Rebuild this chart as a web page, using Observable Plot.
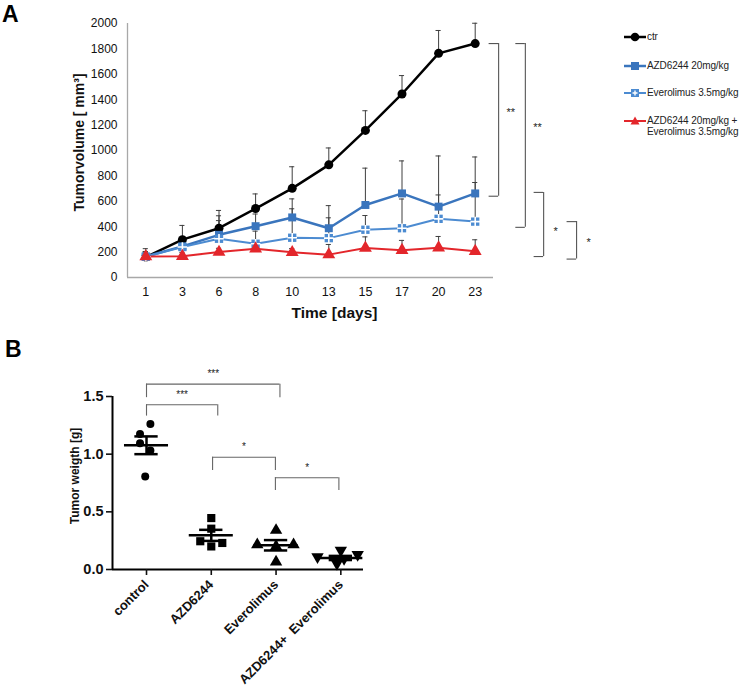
<!DOCTYPE html>
<html><head><meta charset="utf-8">
<script src="https://cdn.jsdelivr.net/npm/d3@7"></script>
<script src="https://cdn.jsdelivr.net/npm/@observablehq/plot@0.6"></script>
<style>
body{margin:0;background:#fff;}
#root{position:relative;width:742px;height:689px;font-family:"Liberation Sans",Arial,sans-serif;overflow:hidden;background:#fff}
.panel{position:absolute;left:0}
.plab{position:absolute;font-weight:bold;font-size:23px;line-height:1;color:#000}
.leg{position:absolute;left:624px;font-size:10px;color:#222;line-height:11px;letter-spacing:-0.1px}
.leg svg{position:absolute;left:0;top:0}
.leg span{position:absolute;left:23px;top:0;white-space:nowrap}
</style></head><body><div id="root"></div>
<script>
// ---------- Panel A data ----------
const days = [1, 3, 6, 8, 10, 13, 15, 17, 20, 23];
const seriesNames = ["ctr", "AZD6244 20mg/kg", "Everolimus 3.5mg/kg", "AZD6244 20mg/kg +\nEverolimus 3.5mg/kg"];
const ctrMean  = [161, 298, 388, 543, 702, 887, 1158, 1445, 1765, 1842];
const ctrErr   = [66, 112, 140, 115, 170, 133, 155, 145, 180, 160];
const azdMean  = [165, 245, 336, 404, 473, 388, 571, 662, 558, 662];
const azdErr   = [40, 35, 150, 96, 146, 178, 290, 256, 399, 287];
const evMean   = [163, 240, 305, 266, 313, 310, 376, 388, 462, 440];
const evErr    = [40, 35, 143, 99, 228, 160, 112, 230, 188, 308];
const comboMean= [165, 168, 200, 227, 198, 180, 232, 214, 235, 206];
const comboErr = [30, 30, 30, 30, 30, 80, 88, 78, 88, 91];
const yTicksA = [0, 200, 400, 600, 800, 1000, 1200, 1400, 1600, 1800, 2000];
const bracketsA = [
  {top: 1842, bottom: 640, label: "**", labelAt: 1300},
  {top: 1842, bottom: 395, label: "**", labelAt: 1185},
  {top: 670, bottom: 165, label: "*", labelAt: 360},
  {top: 440, bottom: 145, label: "*", labelAt: 275}
];
const bracketColA = [9.64, 10.37, 10.87, 11.77]; // annotation columns right of the plot

// ---------- Panel B data ----------
const groupsB = ["control", "AZD6244", "Everolimus", "AZD6244+  Everolimus"];
const weightsB = [
  [1.262, 1.175, 1.094, 1.031, 0.806],
  [0.446, 0.354, 0.245, 0.230, 0.200],
  [0.340, 0.215, 0.215, 0.200, 0.066],
  [0.167, 0.130, 0.109, 0.095, 0.052]
];
const jitterB = [
  [0.06, -0.10, -0.10, 0.06, -0.02],
  [0.00, 0.00, -0.17, 0.17, 0.00],
  [0.00, -0.29, 0.27, 0.00, 0.00],
  [0.00, 0.26, -0.36, 0.05, -0.06]
];
const meanB = [1.077, 0.296, 0.210, 0.100];
const semB  = [0.077, 0.048, 0.045, 0.018];
const yTicksB = [0, 0.5, 1.0, 1.5];
const bracketsB = [
  {a: 0, b: 2.06, y: 1.607, leg: 1.49, label: "***"},
  {a: 0, b: 1.10, y: 1.428, leg: 1.33, label: "***"},
  {a: 1.02, b: 1.99, y: 0.973, leg: 0.858, label: "*"},
  {a: 1.99, b: 2.97, y: 0.795, leg: 0.685, label: "*"}
];

// ---------- styles ----------
const colors = ["#000000", "#3a75bd", "#4c8bd1", "#e3262b"];
const lineW = [2.5, 2.5, 2, 2];
const errColor = "#3f3f3f";

const triangleDown = {
  draw(ctx, size) {
    const s3 = Math.sqrt(3);
    const y = -Math.sqrt(size / (s3 * 3));
    ctx.moveTo(0, -y * 2);
    ctx.lineTo(-s3 * y, y);
    ctx.lineTo(s3 * y, y);
    ctx.closePath();
  }
};

const root = document.getElementById("root");

// ---------- Panel A ----------
const means = [ctrMean, azdMean, evMean, comboMean];
const errs = [ctrErr, azdErr, evErr, comboErr];
const rowsA = means.flatMap((m, s) => m.map((v, i) => ({s, i, v, hi: v + errs[s][i]})));
const xDomA = [-0.5, days.length - 0.5];
const capW = 0.07;

const marksA = [
  Plot.ruleY([0], {stroke: "#a8a8a8", strokeWidth: 1.3}),
  Plot.ruleX([xDomA[0]], {y1: 0, y2: yTicksA[yTicksA.length - 1], stroke: "#a8a8a8", strokeWidth: 1.3}),
  Plot.axisY({ticks: yTicksA, tickFormat: d => String(d), tickSize: 0, tickPadding: 10, label: null, fontSize: 12}),
  Plot.axisX({ticks: days.map((d, i) => i), tickFormat: i => String(days[i]), tickSize: 0, tickPadding: 10, label: null, fontSize: 12.5}),
  Plot.text(["Tumorvolume [ mm³]"], {frameAnchor: "left", textAnchor: "middle", lineAnchor: "middle", rotate: -90, dx: -48, dy: -8, fontWeight: "bold", fontSize: 14, fill: "#111"}),
  Plot.text(["Time [days]"], {frameAnchor: "bottom", textAnchor: "middle", lineAnchor: "middle", dx: 24, dy: 36, fontWeight: "bold", fontSize: 15.5, fill: "#111"})
];
for (let s = 0; s < 4; s++) {
  const rows = rowsA.filter(d => d.s === s);
  marksA.push(Plot.line(rows, {x: "i", y: "v", stroke: colors[s], strokeWidth: lineW[s]}));
}
for (let s = 0; s < 4; s++) {
  const rows = rowsA.filter(d => d.s === s);
  marksA.push(
    Plot.ruleX(rows, {x: "i", y1: "v", y2: "hi", stroke: errColor, strokeWidth: 1}),
    Plot.ruleY(rows, {y: "hi", x1: d => d.i - capW, x2: d => d.i + capW, stroke: errColor, strokeWidth: 1})
  );
}
for (let s = 0; s < 4; s++) {
  const rows = rowsA.filter(d => d.s === s);
  if (s === 0) marksA.push(Plot.dot(rows, {x: "i", y: "v", r: 4.5, fill: colors[0], symbol: "circle"}));
  if (s === 1) marksA.push(Plot.dot(rows, {x: "i", y: "v", r: 4.5, fill: colors[1], symbol: "square"}));
  if (s === 2) marksA.push(
    Plot.dot(rows, {x: "i", y: "v", r: 4.7, fill: colors[2], symbol: "square"}),
    Plot.dot(rows, {x: "i", y: "v", r: 3.2, stroke: "#fff", strokeWidth: 1.6, symbol: "plus"})
  );
  if (s === 3) marksA.push(Plot.dot(rows, {x: "i", y: "v", r: 4.8, fill: colors[3], symbol: "triangle"}));
}
// significance brackets (annotation)
const bA = bracketsA.map((b, k) => ({...b, c: bracketColA[k]}));
marksA.push(
  Plot.ruleX(bA, {x: "c", y1: "top", y2: "bottom", stroke: "#555", strokeWidth: 1.1}),
  Plot.ruleY(bA, {y: "top", x1: d => d.c - 0.26, x2: "c", stroke: "#555", strokeWidth: 1.1}),
  Plot.ruleY(bA, {y: "bottom", x1: d => d.c - 0.26, x2: "c", stroke: "#555", strokeWidth: 1.1}),
  Plot.text(bA, {x: d => d.c + 0.33, y: "labelAt", text: "label", fontSize: 11, fill: "#222"})
);

const plotA = Plot.plot({
  width: 742, height: 330,
  marginLeft: 127, marginRight: 249, marginTop: 23, marginBottom: 53,
  style: {fontFamily: "Liberation Sans, Arial, sans-serif", color: "#111", background: "transparent", overflow: "visible"},
  x: {type: "linear", domain: xDomA},
  y: {domain: [0, 2000]},
  marks: marksA
});
plotA.classList.add("panel");
plotA.style.top = "0px";
root.appendChild(plotA);

// ---------- Legend A ----------
const legTops = [31, 60, 87, 115];
const legSym = [
  `<circle cx="11" cy="6" r="4.3" fill="${colors[0]}"/>`,
  `<rect x="7" y="2" width="8" height="8" fill="${colors[1]}"/>`,
  `<rect x="7" y="2" width="8" height="8" fill="${colors[2]}"/><path d="M11 3.5V8.5M8.5 6H13.5" stroke="#fff" stroke-width="1.4"/>`,
  `<path d="M11 1.5L15.5 9.5H6.5Z" fill="${colors[3]}"/>`
];
seriesNames.forEach((name, s) => {
  const d = document.createElement("div");
  d.className = "leg";
  d.style.top = legTops[s] + "px";
  d.innerHTML = `<svg width="24" height="12"><line x1="0" y1="6" x2="22" y2="6" stroke="${colors[s]}" stroke-width="${lineW[s]}"/>${legSym[s]}</svg><span>${name.replace("\n", "<br>")}</span>`;
  root.appendChild(d);
});

// ---------- Panel B ----------
const xDomB = [-0.525, 3.35];
const pts = weightsB.flatMap((w, g) => w.map((v, k) => ({g, v, x: g + jitterB[g][k]})));
const stats = meanB.map((m, g) => ({g, m, lo: m - semB[g], hi: m + semB[g]}));
const symB = ["circle", "square", "triangle", triangleDown];
const marksB = [
  Plot.ruleY([0], {x1: xDomB[0], x2: xDomB[1], stroke: "#000", strokeWidth: 2}),
  Plot.ruleX([xDomB[0]], {y1: 0, y2: yTicksB[yTicksB.length - 1], stroke: "#000", strokeWidth: 2}),
  Plot.axisY({ticks: yTicksB, tickFormat: d3.format(".1f"), tickSize: 6, tickPadding: 3, label: null, fontSize: 14.5, strokeWidth: 1.6}),
  Plot.axisX({ticks: groupsB.map((g, i) => i), tickFormat: i => groupsB[i], tickSize: 6, tickPadding: 7, tickRotate: -45, label: null, fontSize: 13, strokeWidth: 1.6}),
  Plot.text(["Tumor weigth [g]"], {frameAnchor: "left", textAnchor: "middle", lineAnchor: "middle", rotate: -90, dx: -37, dy: -7, fontSize: 12, fill: "#111"}),
  // brackets
  Plot.ruleY(bracketsB, {y: "y", x1: "a", x2: "b", stroke: "#666", strokeWidth: 1.1}),
  Plot.ruleX(bracketsB, {x: "a", y1: "leg", y2: "y", stroke: "#666", strokeWidth: 1.1}),
  Plot.ruleX(bracketsB, {x: "b", y1: "leg", y2: "y", stroke: "#666", strokeWidth: 1.1}),
  Plot.text(bracketsB, {x: d => (d.a + d.b) / 2, y: "y", text: "label", dy: -10, fontSize: 10, fontWeight: "normal", fill: "#222"})
];
for (let g = 0; g < 4; g++) {
  marksB.push(Plot.dot(pts.filter(d => d.g === g), {x: "x", y: "v", r: g === 0 ? 4 : 4.6, fill: "#000", symbol: symB[g]}));
}
marksB.push(
  Plot.ruleY(stats, {y: "m", x1: d => d.g - 0.34, x2: d => d.g + 0.34, stroke: "#000", strokeWidth: 2.5}),
  Plot.ruleY(stats, {y: "hi", x1: d => d.g - 0.18, x2: d => d.g + 0.18, stroke: "#000", strokeWidth: 2.5}),
  Plot.ruleY(stats, {y: "lo", x1: d => d.g - 0.18, x2: d => d.g + 0.18, stroke: "#000", strokeWidth: 2.5}),
  Plot.ruleX(stats, {x: "g", y1: "lo", y2: "hi", stroke: "#000", strokeWidth: 2.5})
);
const plotB = Plot.plot({
  width: 400, height: 359,
  marginLeft: 112, marginRight: 37, marginTop: 66, marginBottom: 120,
  style: {fontFamily: "Liberation Sans, Arial, sans-serif", fontWeight: "bold", color: "#111", background: "transparent", overflow: "visible"},
  x: {type: "linear", domain: xDomB},
  y: {domain: [0, 1.5]},
  marks: marksB
});
plotB.classList.add("panel");
plotB.style.top = "330px";
root.appendChild(plotB);

// panel letters
[["A", 2, 3], ["B", 5, 338]].forEach(([t, x, y]) => {
  const d = document.createElement("div");
  d.className = "plab"; d.textContent = t;
  d.style.left = x + "px"; d.style.top = y + "px";
  root.appendChild(d);
});
</script></body></html>
